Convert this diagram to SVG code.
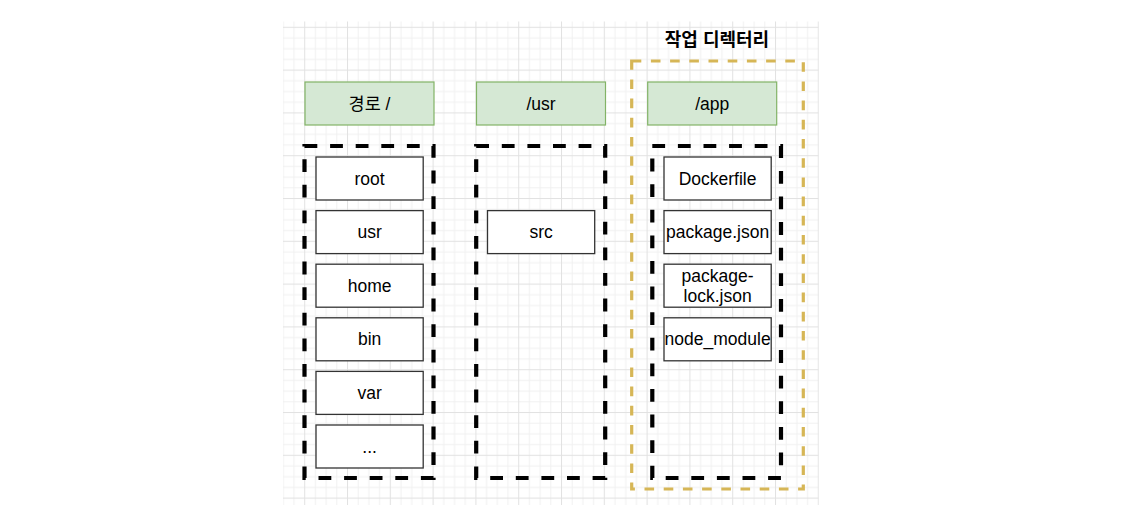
<svg xmlns="http://www.w3.org/2000/svg" width="1134" height="522" viewBox="0 0 1134 522">
<defs>
<pattern id="grid" patternUnits="userSpaceOnUse" x="304.2" y="26.8" width="42.8" height="42.8">
<rect x="0" y="0" width="42.8" height="42.8" fill="#ffffff"/>
<g fill="#f1f1f1">
<rect x="10.7" y="0" width="1" height="42.8"/>
<rect x="21.4" y="0" width="1" height="42.8"/>
<rect x="32.1" y="0" width="1" height="42.8"/>
<rect x="0" y="10.7" width="42.8" height="1"/>
<rect x="0" y="21.4" width="42.8" height="1"/>
<rect x="0" y="32.1" width="42.8" height="1"/>
</g>
<g fill="#e2e2e2">
<rect x="0" y="0" width="1" height="42.8"/>
<rect x="0" y="0" width="42.8" height="1"/>
</g>
</pattern>
<style>
.hdr{fill:#d5e8d4;stroke:#82b366;stroke-width:1.2}
.box{fill:#ffffff;stroke:#333333;stroke-width:1.3}
.dash{fill:none;stroke:#000000;stroke-width:4.2;stroke-dasharray:12.8 12.8}
.ydash{fill:none;stroke:#d6b656;stroke-width:3.2;stroke-dasharray:9.6 9.6}
.t{font-family:"Liberation Sans","Noto Sans CJK KR",Arial,sans-serif;font-size:17.5px;fill:#000000;text-anchor:middle}
.title{font-family:"Liberation Sans","Noto Sans CJK KR",sans-serif;font-size:18px;font-weight:bold;fill:#000000;text-anchor:middle}
</style>
</defs>
<rect x="283" y="21.5" width="535.8" height="483.5" fill="url(#grid)"/>

<g id="workdir">
<rect class="ydash" x="631.7" y="61" width="171.6" height="428"/>
<text class="title" x="717" y="45.5">작업 디렉터리</text>
</g>

<g id="hdr-root"><rect class="hdr" x="305" y="82" width="129" height="43"/><text class="t" x="369.5" y="109.5">경로 /</text></g>
<g id="hdr-usr"><rect class="hdr" x="476.5" y="82" width="129" height="43"/><text class="t" x="541" y="109.5">/usr</text></g>
<g id="hdr-app"><rect class="hdr" x="647.7" y="82" width="129" height="43"/><text class="t" x="712.2" y="109.5">/app</text></g>

<g id="c-root"><rect class="dash" x="304.5" y="146" width="129" height="332"/></g>
<g id="c-usr"><rect class="dash" x="476.2" y="146" width="129" height="332"/></g>
<g id="c-app"><rect class="dash" x="652.3" y="146" width="128.7" height="332"/></g>

<g id="n-root"><rect class="box" x="316" y="157" width="107.2" height="43"/><text class="t" x="369.6" y="184.5">root</text></g>
<g id="n-usr"><rect class="box" x="316" y="210.6" width="107.2" height="43"/><text class="t" x="369.6" y="238.1">usr</text></g>
<g id="n-home"><rect class="box" x="316" y="264.2" width="107.2" height="43"/><text class="t" x="369.6" y="291.7">home</text></g>
<g id="n-bin"><rect class="box" x="316" y="317.8" width="107.2" height="43"/><text class="t" x="369.6" y="345.3">bin</text></g>
<g id="n-var"><rect class="box" x="316" y="371.4" width="107.2" height="43"/><text class="t" x="369.6" y="398.9">var</text></g>
<g id="n-more"><rect class="box" x="316" y="425" width="107.2" height="43"/><text class="t" x="369.6" y="452.5">...</text></g>

<g id="n-src"><rect class="box" x="487.5" y="210.6" width="107.2" height="43"/><text class="t" x="541.1" y="238.1">src</text></g>

<g id="n-dockerfile"><rect class="box" x="664" y="157" width="107.2" height="43"/><text class="t" x="717.6" y="184.5">Dockerfile</text></g>
<g id="n-package"><rect class="box" x="664" y="210.6" width="107.2" height="43"/><text class="t" x="717.6" y="238.1">package.json</text></g>
<g id="n-lock"><rect class="box" x="664" y="264.2" width="107.2" height="43"/><text class="t" x="717.6" y="282.3">package-</text><text class="t" x="717.6" y="302.3">lock.json</text></g>
<g id="n-nodemod"><rect class="box" x="664" y="317.8" width="107.2" height="43"/><text class="t" x="717.6" y="345.3">node_module</text></g>

<g id="connectors"></g>
</svg>
